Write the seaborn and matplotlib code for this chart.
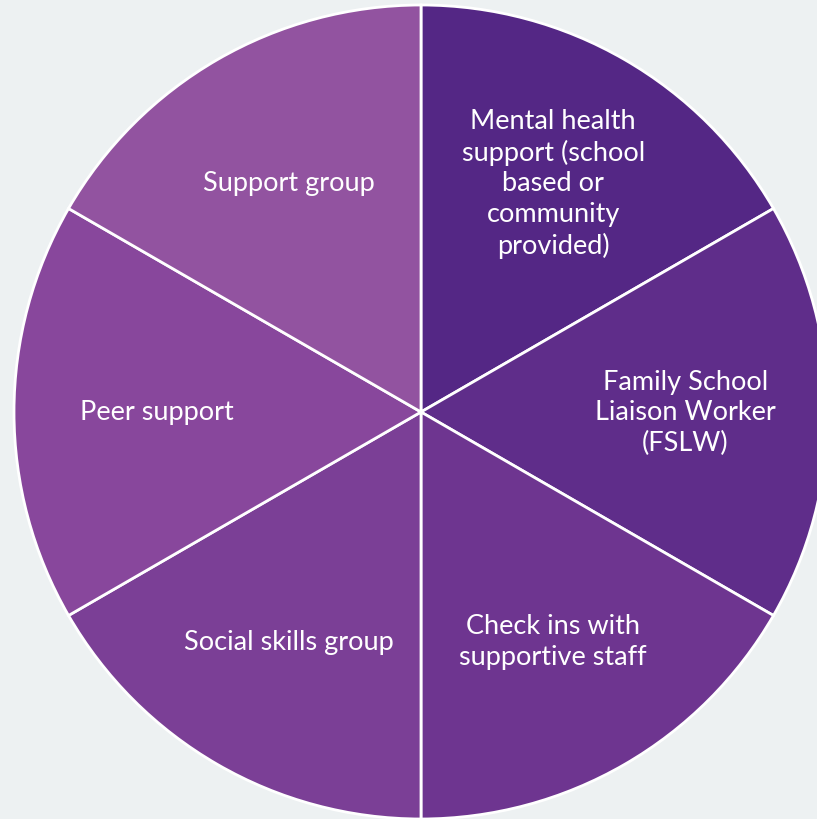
import matplotlib
matplotlib.use("Agg")
import matplotlib.pyplot as plt
import seaborn as sns

categories = [
    "Mental health\nsupport (school\nbased or\ncommunity\nprovided)",
    "Family School\nLiaison Worker\n(FSLW)",
    "Check ins with\nsupportive staff",
    "Social skills group",
    "Peer support",
    "Support group",
]
values = [1, 1, 1, 1, 1, 1]
colors = ["#542785", "#5f2d8a", "#6e3590", "#7b3f96", "#88479c", "#9253a0"]

sns.set_theme(style="white")
plt.rcParams['font.family'] = ['Lato', 'DejaVu Sans']

fig = plt.figure(figsize=(8.17, 8.20), dpi=100)
fig.patch.set_facecolor("#edf1f2")
ax = fig.add_axes([0, 0, 1, 1])
ax.set_facecolor("#edf1f2")

wedges, texts = ax.pie(
    values, labels=categories, colors=colors, startangle=90, counterclock=False,
    radius=407, center=(421, 407), labeldistance=0.65,
    wedgeprops=dict(edgecolor="white", linewidth=2.0),
    textprops=dict(color="white", fontsize=19.5),
)
for t in texts:
    t.set_horizontalalignment("center")
    t.set_verticalalignment("center")
    t.set_multialignment("center")
    t.set_linespacing(1.27)

ax.set_xlim(0, 817)
ax.set_ylim(0, 820)
ax.set_aspect("equal")
ax.axis("off")
fig.savefig("out.png", dpi=100, facecolor=fig.get_facecolor())
